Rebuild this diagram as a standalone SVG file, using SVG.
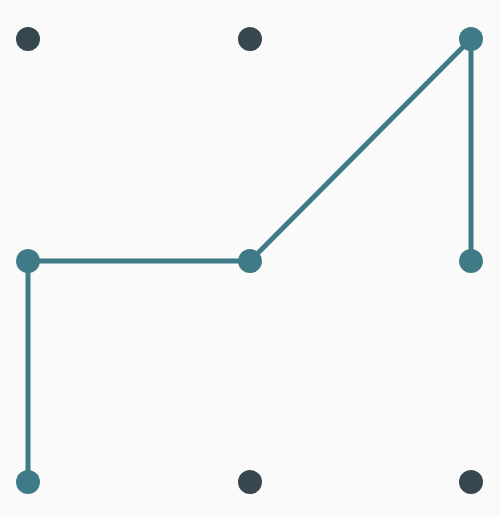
<svg xmlns="http://www.w3.org/2000/svg" width="500" height="516" viewBox="0 0 500 516">
<style>
.dot{fill:#37474f}
.on{fill:#3e7b87}
.ln{stroke:#3e7b87;stroke-width:5;fill:none;stroke-linejoin:round}
</style>
<rect width="500" height="516" fill="#fafafa"/>
<g id="connectors">
<polyline class="ln" points="471,39 471,261"/>
<polyline class="ln" points="471,39 250,261 28,261 28,482"/>
</g>
<g id="n1"><circle class="dot" cx="28" cy="39" r="12"/></g>
<g id="n2"><circle class="dot" cx="250" cy="39" r="12"/></g>
<g id="n3"><circle class="on" cx="471" cy="39" r="12"/></g>
<g id="n4"><circle class="on" cx="28" cy="261" r="12"/></g>
<g id="n5"><circle class="on" cx="250" cy="261" r="12"/></g>
<g id="n6"><circle class="on" cx="471" cy="261" r="12"/></g>
<g id="n7"><circle class="on" cx="28" cy="482" r="12"/></g>
<g id="n8"><circle class="dot" cx="250" cy="482" r="12"/></g>
<g id="n9"><circle class="dot" cx="471" cy="482" r="12"/></g>
</svg>
